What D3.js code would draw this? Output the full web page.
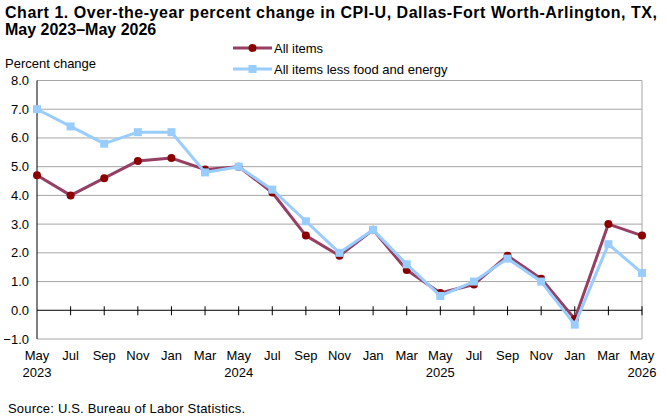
<!DOCTYPE html>
<html>
<head>
<meta charset="utf-8">
<script src="https://cdn.jsdelivr.net/npm/d3@7"></script>
<style>
  body { margin: 0; background: #fff; }
  text { font-family: Arial, "Liberation Sans", sans-serif; }
</style>
</head>
<body>
<div id="chart"></div>
<script>
const months = ["May","Jul","Sep","Nov","Jan","Mar","May","Jul","Sep","Nov","Jan","Mar","May","Jul","Sep","Nov","Jan","Mar","May"]
const years = {0: "2023", 6: "2024", 12: "2025", 18: "2026"}
const allItems = [4.7, 4.0, 4.6, 5.2, 5.3, 4.9, 5.0, 4.1, 2.6, 1.9, 2.8, 1.4, 0.6, 0.9, 1.9, 1.1, -0.3, 3.0, 2.6]
const coreItems = [7.0, 6.4, 5.8, 6.2, 6.2, 4.8, 5.0, 4.2, 3.1, 2.0, 2.8, 1.6, 0.5, 1.0, 1.8, 1.0, -0.5, 2.3, 1.3]
const yTicks = [-1, 0, 1, 2, 3, 4, 5, 6, 7, 8]

const width = 667, height = 420
const margin = {top: 80.5, right: 25, bottom: 81, left: 37}

const svg = d3.select("#chart").append("svg")
  .attr("width", width)
  .attr("height", height)

const x = d3.scaleLinear()
  .domain([0, months.length - 1])
  .range([margin.left, width - margin.right])
const y = d3.scaleLinear()
  .domain([-1, 8])
  .range([height - margin.bottom, margin.top])

// title
const title = svg.append("g").attr("font-weight", "bold").attr("font-size", 16).attr("fill", "#000")
title.append("text").attr("x", 5).attr("y", 17.5)
  .attr("textLength", 652).attr("lengthAdjust", "spacing")
  .text("Chart 1. Over-the-year percent change in CPI-U, Dallas-Fort Worth-Arlington, TX,")
title.append("text").attr("x", 5).attr("y", 34.5)
  .text("May 2023\u2013May 2026")

svg.append("text").attr("x", 5).attr("y", 68).attr("font-size", 13)
  .text("Percent change")

// grid
svg.append("g")
  .selectAll("line")
  .data(yTicks.filter(d => d != 0))
  .join("line")
    .attr("x1", margin.left).attr("x2", width - margin.right)
    .attr("y1", d => y(d)).attr("y2", d => y(d))
    .attr("stroke", "#a6a6a6")
    .attr("stroke-width", 1)

svg.append("line")
  .attr("x1", width - margin.right).attr("x2", width - margin.right)
  .attr("y1", y(8)).attr("y2", y(-1))
  .attr("stroke", "#a6a6a6")

// y axis
svg.append("line")
  .attr("x1", margin.left).attr("x2", margin.left)
  .attr("y1", y(8)).attr("y2", y(-1))
  .attr("stroke", "#000")

svg.append("g")
  .attr("font-size", 13)
  .attr("text-anchor", "end")
  .selectAll("text")
  .data(yTicks)
  .join("text")
    .attr("x", 29)
    .attr("y", d => y(d) + 4.5)
    .text(d => d3.format(".1f")(d))

// zero line with crossing ticks
svg.append("line")
  .attr("x1", margin.left).attr("x2", width - margin.right)
  .attr("y1", y(0)).attr("y2", y(0))
  .attr("stroke", "#000")
svg.append("g")
  .selectAll("line")
  .data(d3.range(1, months.length))
  .join("line")
    .attr("x1", d => x(d)).attr("x2", d => x(d))
    .attr("y1", y(0) - 4).attr("y2", y(0) + 5)
    .attr("stroke", "#000")

// x labels
const xl = svg.append("g").attr("font-size", 13).attr("text-anchor", "middle")
xl.selectAll(".m")
  .data(months)
  .join("text")
    .attr("class", "m")
    .attr("x", (d, i) => x(i))
    .attr("y", 360)
    .text(d => d)
xl.selectAll(".yr")
  .data(Object.entries(years))
  .join("text")
    .attr("class", "yr")
    .attr("x", d => x(+d[0]))
    .attr("y", 377)
    .text(d => d[1])

// lines
const line = d3.line().x((d, i) => x(i)).y(d => y(d))

svg.append("path")
  .datum(allItems)
  .attr("d", line)
  .attr("fill", "none")
  .attr("stroke", "#953f63")
  .attr("stroke-width", 3)
  .attr("stroke-linejoin", "round")

svg.append("g")
  .selectAll("circle")
  .data(allItems)
  .join("circle")
    .attr("cx", (d, i) => x(i))
    .attr("cy", d => y(d))
    .attr("r", 4)
    .attr("fill", "#8b0000")

svg.append("path")
  .datum(coreItems)
  .attr("d", line)
  .attr("fill", "none")
  .attr("stroke", "#99ccff")
  .attr("stroke-width", 3)
  .attr("stroke-linejoin", "round")

const sq = 8
svg.append("g")
  .selectAll("rect")
  .data(coreItems)
  .join("rect")
    .attr("x", (d, i) => x(i) - sq / 2)
    .attr("y", d => y(d) - sq / 2)
    .attr("width", sq)
    .attr("height", sq)
    .attr("fill", "#99ccff")

// legend
const legend = svg.append("g").attr("font-size", 13)
legend.append("line").attr("x1", 233).attr("x2", 272).attr("y1", 48).attr("y2", 48)
  .attr("stroke", "#953f63").attr("stroke-width", 3)
legend.append("circle").attr("cx", 252.5).attr("cy", 48).attr("r", 4).attr("fill", "#8b0000")
legend.append("text").attr("x", 274).attr("y", 52.5).text("All items")
legend.append("line").attr("x1", 233).attr("x2", 272).attr("y1", 69).attr("y2", 69)
  .attr("stroke", "#99ccff").attr("stroke-width", 3)
legend.append("rect").attr("x", 248.5).attr("y", 65).attr("width", 8).attr("height", 8).attr("fill", "#99ccff")
legend.append("text").attr("x", 274).attr("y", 73.5).text("All items less food and energy")

svg.append("text").attr("x", 8).attr("y", 413).attr("font-size", 13)
  .attr("textLength", 237).attr("lengthAdjust", "spacing")
  .text("Source: U.S. Bureau of Labor Statistics.")
</script>
</body>
</html>
